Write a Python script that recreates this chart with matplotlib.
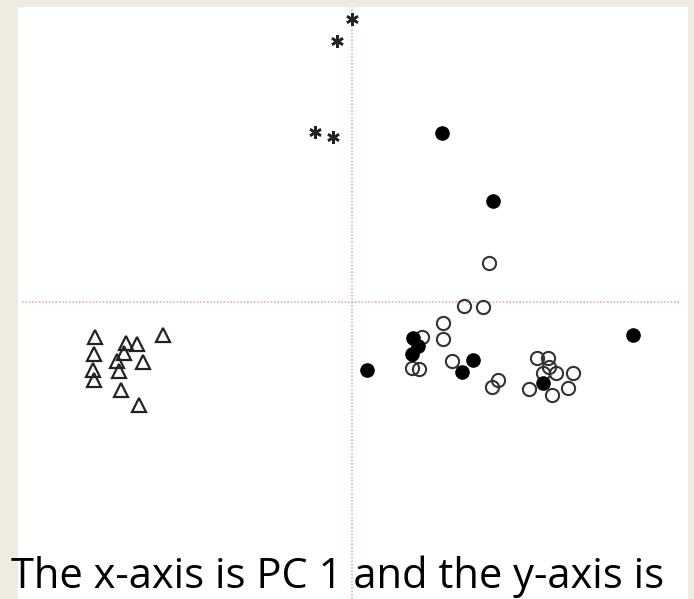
import matplotlib
matplotlib.use("Agg")
import matplotlib.pyplot as plt

# PCA scores (PC1, PC2)
star_pc1 = [0.00, -0.30, -0.74, -0.38]
star_pc2 = [5.66, 5.22, 3.40, 3.30]

filled_pc1 = [1.80, 2.82, 5.62, 1.22, 1.32, 1.20, 0.30, 2.42, 2.20, 3.82]
filled_pc2 = [3.38, 2.02, -0.66, -0.72, -0.88, -1.04, -1.36, -1.16, -1.40, -1.62]

open_pc1 = [2.74, 2.24, 2.62, 1.82, 1.82, 1.40, 2.00, 1.20, 1.34, 2.80,
            2.92, 3.54, 3.70, 3.92, 3.94, 4.08, 3.82, 4.42, 4.32, 4.00]
open_pc2 = [0.78, -0.08, -0.10, -0.42, -0.74, -0.70, -1.18, -1.32, -1.34, -1.70,
            -1.56, -1.74, -1.12, -1.12, -1.30, -1.42, -1.42, -1.42, -1.72, -1.86]

tri_pc1 = [-5.14, -5.16, -5.18, -5.16, -4.52, -4.30, -4.56, -4.70, -4.66,
           -4.18, -4.62, -4.26, -3.78]
tri_pc2 = [-0.70, -1.04, -1.36, -1.56, -0.82, -0.84, -1.02, -1.18, -1.38,
           -1.20, -1.76, -2.06, -0.66]

caption = "The x-axis is PC 1 and the y-axis is"

W, H = 694, 599
fig = plt.figure(figsize=(W / 100, H / 100), dpi=100)
fig.patch.set_facecolor("#eeece1")

ax = fig.add_axes([18 / W, 0, 670 / W, 592 / H])
ax.set_facecolor("white")
ax.set_xlim(-6.68, 6.72)
ax.set_ylim(-5.94, 5.90)
ax.set_xticks([])
ax.set_yticks([])
for s in ax.spines.values():
    s.set_visible(False)

line_kw = dict(color="#d6a4b2", lw=1.1, linestyle=(0, (1, 1.2)), zorder=1)
ax.axvline(0, **line_kw)
ax.plot([-6.6, 6.56], [0, 0], **line_kw)

ax.plot(star_pc1, star_pc2, linestyle="none", marker=(6, 2, 0), ms=9,
        mec="#222222", mew=1.8, zorder=3)
ax.plot(open_pc1, open_pc2, linestyle="none", marker="o", ms=9.5,
        mfc="none", mec="#333333", mew=1.5, zorder=3)
ax.plot(filled_pc1, filled_pc2, linestyle="none", marker="o", ms=9.5,
        mfc="black", mec="black", mew=1.0, zorder=4)
ax.plot(tri_pc1, tri_pc2, linestyle="none", marker="^", ms=10,
        mfc="none", mec="#222222", mew=1.6, zorder=3)

fig.text(11 / W, 1 - 588 / H, caption, fontsize=30, family="Open Sans",
         color="black", ha="left", va="baseline")

fig.savefig("out.png", dpi=100, facecolor=fig.get_facecolor())
